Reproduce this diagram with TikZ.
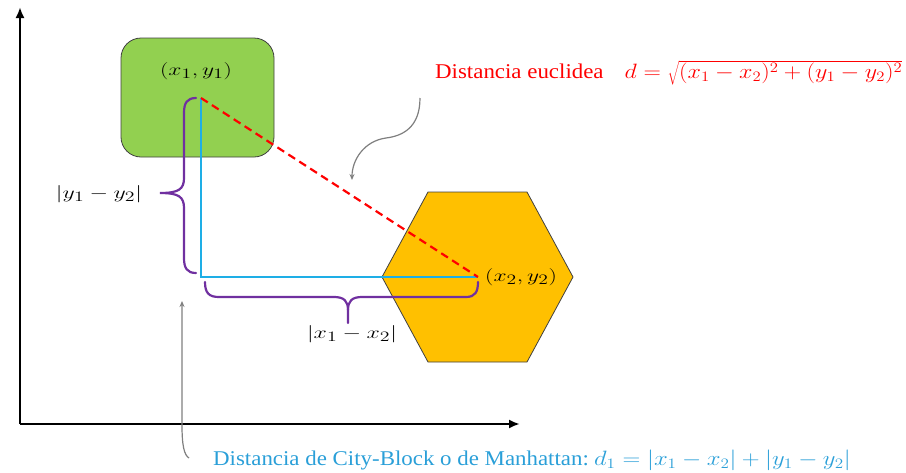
\documentclass[tikz,border=0pt]{standalone}
\usepackage{graphicx}
\usepackage{fontspec}
\setmainfont{Liberation Serif}
\usetikzlibrary{arrows.meta}
\definecolor{grn}{HTML}{92D050}
\definecolor{org}{HTML}{FFC000}
\definecolor{cyanline}{HTML}{1EAEE6}
\definecolor{bluetext}{HTML}{2A9FD8}
\definecolor{purp}{HTML}{7030A0}
\definecolor{arrgray}{HTML}{7F7F7F}
\definecolor{edge}{HTML}{404040}
\newcommand{\wmath}[2]{\scalebox{#1}[1]{$#2$}}
\newcommand{\wtext}[1]{\scalebox{1.09}[1]{#1}}
\begin{document}
\begin{tikzpicture}[x=1pt,y=-1pt,
  axis/.style={line width=2.8pt,-{Latex[length=11pt,width=9pt]}},
  mlabel/.style={inner sep=0pt,font=\fontsize{19}{22}\selectfont},
  bigtext/.style={inner sep=0pt,font=\fontsize{21}{25}\selectfont},
  cityline/.style={cyanline,line width=2.2pt},
  eucl/.style={red,line width=2.2pt,dash pattern=on 8pt off 5pt},
  bracestyle/.style={purp,line width=2.2pt,line cap=round},
  pointer/.style={arrgray,line width=1.2pt,-{Stealth[length=6pt,width=5pt]}}]
\useasboundingbox (0,0) rectangle (906,472);
% axes
\coordinate (orig) at (20,424);
\coordinate (ytop) at (20,7);
\coordinate (xend) at (520,424);
\draw[axis] (orig) -- (ytop);
\draw[axis] (orig) -- (xend);
% green box
\node[draw=edge,line width=0.8pt,fill=grn,rounded corners=20pt,minimum width=153pt,minimum height=119pt,inner sep=0pt] (box) at (197.5,97.5) {};
% hexagon
\draw[edge,line width=0.8pt,fill=org] (382,277) -- (428,192) -- (527,192) -- (573,277) -- (527,362) -- (428,362) -- cycle;
% points
\coordinate (p1) at (201,98);
\coordinate (p2) at (478,277);
\coordinate (corner) at (201,277);
\node[mlabel] (l1) at (196,71) {\wmath{1.36}{(x_1,y_1)}};
\node[mlabel,anchor=west] (l2) at (485,277) {\wmath{1.36}{(x_2,y_2)}};
% lines
\draw[cityline] (p1) -- (corner) -- (p2);
\draw[eucl] (p1) -- (p2);
% vertical brace
\coordinate (vb1) at (196,98);
\coordinate (vb2) at (196,273);
\coordinate (vtip) at (160,193);
\draw[bracestyle] (vb1) .. controls (187,98) and (184,103) .. (184,113) -- (184,178)
  .. controls (184,189) and (179,193) .. (vtip)
  .. controls (179,193) and (184,197) .. (184,208) -- (184,258)
  .. controls (184,268) and (187,273) .. (vb2);
\node[mlabel] (ly) at (99,194) {\wmath{1.38}{|y_1-y_2|}};
% horizontal brace
\coordinate (hb1) at (205,282);
\coordinate (hb2) at (478,282);
\coordinate (htip) at (348,323);
\draw[bracestyle] (hb1) .. controls (205,293) and (209,297) .. (219,297) -- (334,297)
  .. controls (344,297) and (348,301) .. (348,310) -- (htip);
\draw[bracestyle] (348,310) .. controls (348,301) and (352,297) .. (362,297) -- (466,297)
  .. controls (475,297) and (478,292) .. (hb2);
\node[mlabel] (lx) at (352,334) {\wmath{1.38}{|x_1-x_2|}};
% euclidean label
\node[bigtext,anchor=west,text=red] (eu) at (435,73) {\wtext{Distancia euclidea}\quad \wmath{1.16}{d=\sqrt{(x_1-x_2)^2+(y_1-y_2)^2}}};
\coordinate (ea) at (420,98);
\coordinate (eb) at (352,180);
\draw[pointer] (ea) .. controls (420,128) and (402,136) .. (386,138) .. controls (364,141) and (352,160) .. (eb);
% manhattan label
\node[bigtext,anchor=west,text=bluetext] (mh) at (213,460) {\wtext{Distancia de City-Block o de Manhattan:} \wmath{1.19}{d_1=|x_1-x_2|+|y_1-y_2|}};
\coordinate (ma) at (189,458);
\coordinate (mb) at (182,301);
\draw[pointer] (ma) .. controls (184,455) and (182,445) .. (182,425) -- (mb);
\end{tikzpicture}
\end{document}
